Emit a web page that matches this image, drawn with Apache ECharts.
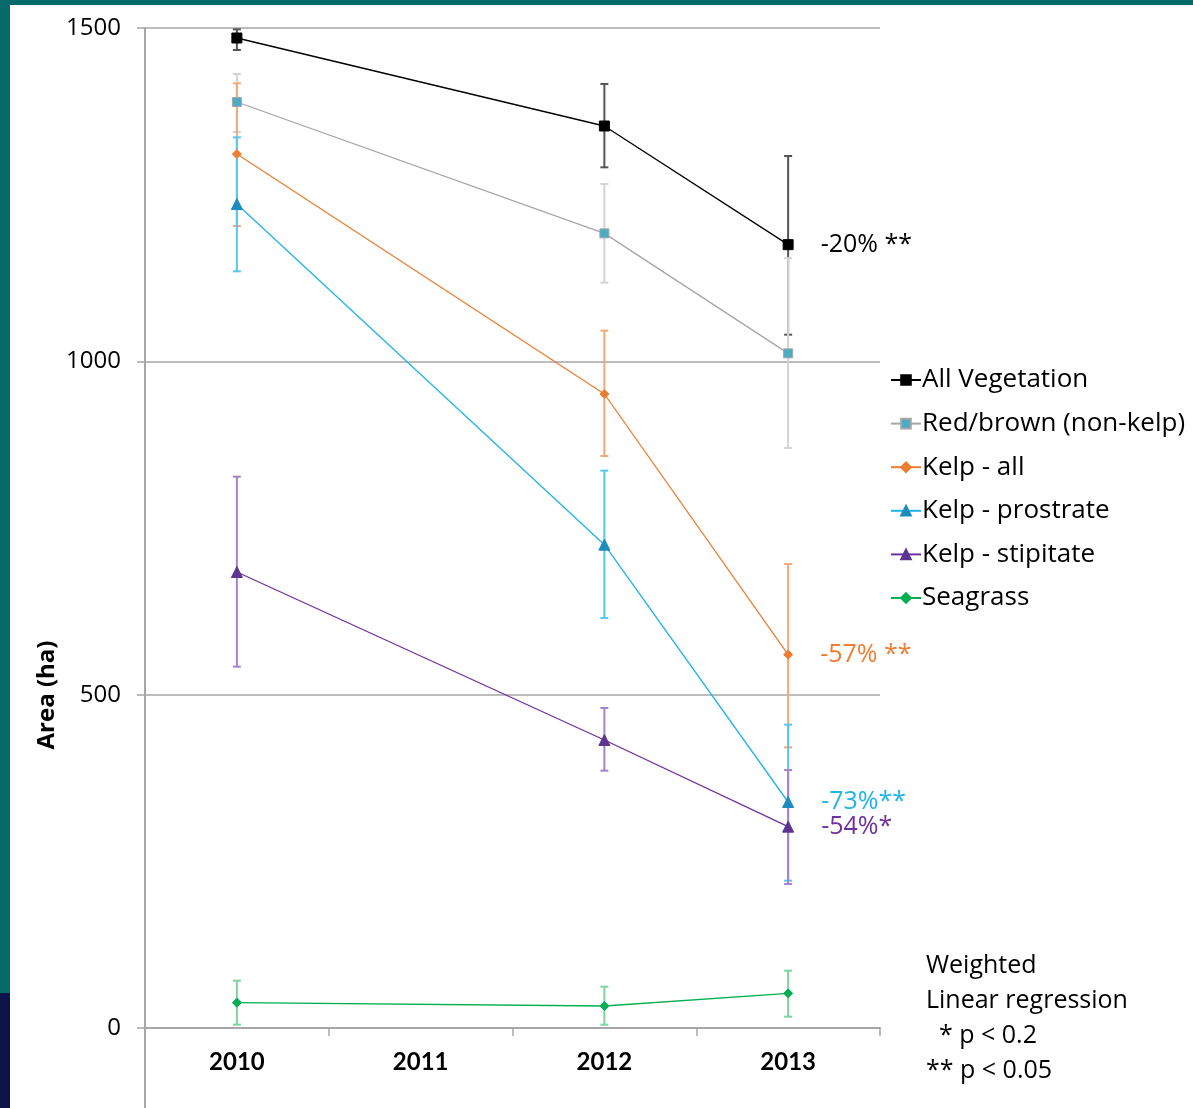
<!DOCTYPE html>
<html>
<head>
<meta charset="utf-8">
<script src="https://cdn.jsdelivr.net/npm/echarts@6/dist/echarts.min.js"></script>
<style>
html,body{margin:0;padding:0;background:#fff;}
#c{width:1193px;height:1108px;}
</style>
</head>
<body>
<div id="c"></div>
<script>
const years = ['2010', '2011', '2012', '2013'];
const yTicks = [0, 500, 1000, 1500];

const seriesNames = ['All Vegetation', 'Red/brown (non-kelp)', 'Kelp - all', 'Kelp - prostrate', 'Kelp - stipitate', 'Seagrass'];

const allVeg      = [1485, null, 1353, 1175];
const allVegLow   = [1467, null, 1291, 1040];
const allVegHigh  = [1498, null, 1416, 1308];

const redBrown     = [1389, null, 1192, 1012];
const redBrownLow  = [1344, null, 1118, 870];
const redBrownHigh = [1431, null, 1266, 1155];

const kelpAll     = [1311, null, 951, 560];
const kelpAllLow  = [1203, null, 858, 421];
const kelpAllHigh = [1417, null, 1046, 696];

const kelpPro     = [1236, null, 725, 339];
const kelpProLow  = [1135, null, 615, 221];
const kelpProHigh = [1336, null, 836, 455];

const kelpStip     = [684, null, 432, 302];
const kelpStipLow  = [542, null, 386, 216];
const kelpStipHigh = [827, null, 480, 387];

const seagrass     = [38, null, 33, 52];
const seagrassLow  = [5, null, 5, 17];
const seagrassHigh = [71, null, 62, 86];

const annotations = ['-20% **', null, '-57% **', '-73%**', '-54%*', null];

const FONT = '"Open Sans", "Noto Sans", sans-serif';
const FONT_B = 'Lato, "Open Sans", sans-serif';

const styles = [
  {line:'#000000', marker:'#000000', border:'#000000', err:'#555555', text:'#000000', symbol:'rect', size:10},
  {line:'#a6a6a6', marker:'#4bacc6', border:'#a6a6a6', err:'#d4d4d4', text:'#000000', symbol:'rect', size:9},
  {line:'#ed7d31', marker:'#ed7d31', border:'#ed7d31', err:'#f2a877', text:'#ed7d31', symbol:'diamond', size:9},
  {line:'#1fb4ea', marker:'#1a8cbf', border:'#1a8cbf', err:'#57c6f0', text:'#1fb4ea', symbol:'triangle', size:11},
  {line:'#7030a0', marker:'#5b3590', border:'#5b3590', err:'#a583c8', text:'#7030a0', symbol:'triangle', size:11},
  {line:'#00b050', marker:'#00b050', border:'#00b050', err:'#7dd49e', text:'#00b050', symbol:'diamond', size:9}
];

const vals = [allVeg, redBrown, kelpAll, kelpPro, kelpStip, seagrass];
const lows = [allVegLow, redBrownLow, kelpAllLow, kelpProLow, kelpStipLow, seagrassLow];
const highs = [allVegHigh, redBrownHigh, kelpAllHigh, kelpProHigh, kelpStipHigh, seagrassHigh];

const series = [];
vals.forEach((v, i) => {
  const data = [];
  v.forEach((val, j) => { if (val !== null) data.push([j, lows[i][j], highs[i][j]]); });
  series.push({
    type: 'custom',
    name: seriesNames[i] + ' err',
    z: 1,
    silent: true,
    data: data,
    renderItem: function (params, api) {
      const x = api.value(0);
      const lo = api.coord([x, api.value(1)]);
      const hi = api.coord([x, api.value(2)]);
      const st = {stroke: styles[i].err, lineWidth: 2};
      return {
        type: 'group',
        children: [
          {type: 'line', shape: {x1: lo[0], y1: lo[1], x2: hi[0], y2: hi[1]}, style: st},
          {type: 'line', shape: {x1: lo[0]-4, y1: lo[1], x2: lo[0]+4, y2: lo[1]}, style: st},
          {type: 'line', shape: {x1: hi[0]-4, y1: hi[1], x2: hi[0]+4, y2: hi[1]}, style: st}
        ]
      };
    }
  });
});
vals.forEach((v, i) => {
  const s = styles[i];
  const data = v.map((val, j) => {
    if (val === null) return '-';
    if (j === 3 && annotations[i]) {
      return {value: val, label: {show: true, position: 'right', distance: 27, formatter: annotations[i],
        color: s.text, fontSize: 25, fontFamily: FONT}};
    }
    return val;
  });
  series.push({
    type: 'line',
    name: seriesNames[i],
    data: data,
    connectNulls: true,
    z: 3,
    symbol: s.symbol,
    symbolSize: s.size,
    showAllSymbol: true,
    lineStyle: {color: s.line, width: 1.3},
    itemStyle: {color: s.marker, borderColor: s.border, borderWidth: 1},
    emphasis: {disabled: true},
    label: {show: false}
  });
});

const chart = echarts.init(document.getElementById('c'), null, {renderer: 'canvas'});
chart.setOption({
  animation: false,
  backgroundColor: '#ffffff',
  grid: {left: 145, right: 313, top: 28, bottom: 80, containLabel: false},
  xAxis: {
    type: 'category',
    data: years,
    boundaryGap: true,
    axisLine: {lineStyle: {color: '#a6a6a6', width: 2}},
    axisTick: {show: true, length: 8, lineStyle: {color: '#a6a6a6', width: 1.5}},
    axisLabel: {color: '#000', fontWeight: 'bold', fontSize: 24, fontFamily: FONT_B, margin: 22}
  },
  yAxis: {
    type: 'value',
    min: 0, max: 1500, interval: 500,
    axisLine: {show: true, lineStyle: {color: '#a6a6a6', width: 2}},
    axisTick: {show: true, length: 8, lineStyle: {color: '#a6a6a6', width: 1.5}},
    splitLine: {lineStyle: {color: '#a6a6a6', width: 1.5}},
    axisLabel: {color: '#000', fontSize: 24, fontFamily: FONT, margin: 24,
      formatter: function (v) { return yTicks.indexOf(v) >= 0 ? String(v) : ''; }}
  },
  legend: {
    orient: 'vertical',
    left: 885,
    top: 362,
    data: seriesNames,
    itemWidth: 30,
    itemHeight: 12,
    itemGap: 17.6,
    textStyle: {color: '#000', fontSize: 26, fontFamily: FONT, lineHeight: 24, padding: [0, 0, 0, -4]},
    selectedMode: false
  },
  graphic: [
    {type: 'rect', shape: {x: 0, y: 0, width: 1193, height: 5}, style: {fill: '#066a6a'}, silent: true},
    {type: 'rect', shape: {x: 0, y: 0, width: 10, height: 993}, style: {fill: '#066a6a'}, silent: true},
    {type: 'rect', shape: {x: 0, y: 993, width: 10, height: 115}, style: {fill: '#0a1446'}, silent: true},
    {type: 'line', shape: {x1: 145, y1: 1028, x2: 145, y2: 1108}, style: {stroke: '#a6a6a6', lineWidth: 2}, silent: true},
    {type: 'text', x: 47, y: 695, rotation: Math.PI / 2, style: {text: 'Area (ha)', fill: '#000', font: 'bold 24px ' + FONT, textAlign: 'center', textVerticalAlign: 'middle'}},
    {type: 'text', x: 926, y: 948, style: {text: 'Weighted\nLinear regression\n  * p < 0.2\n** p < 0.05', fill: '#000', font: '25px ' + FONT, lineHeight: 35}}
  ],
  series: series
});
</script>
</body>
</html>
